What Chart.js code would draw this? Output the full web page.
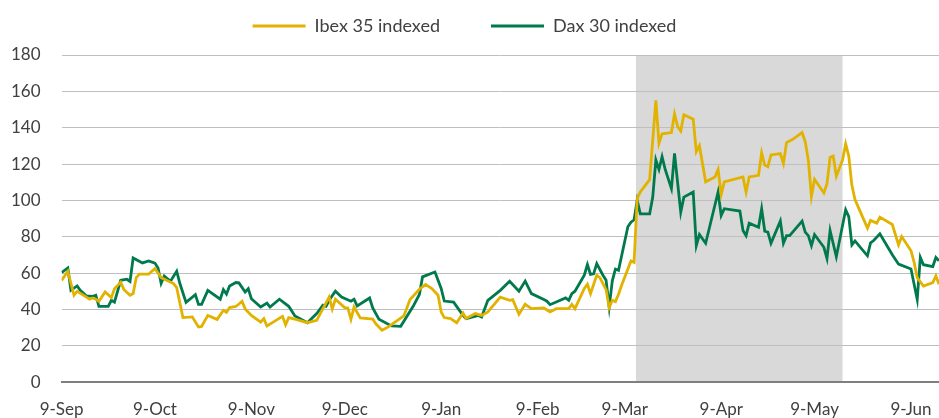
<!DOCTYPE html>
<html>
<head>
<meta charset="utf-8">
<script src="https://cdn.jsdelivr.net/npm/chart.js@4.4.1/dist/chart.umd.min.js"></script>
<style>
    html, body { margin: 0; padding: 0; background: #fff; }
    #wrap { width: 939px; height: 418px; }
</style>
</head>
<body>
<div id="wrap"><canvas id="chart"></canvas></div>
<script>
// x values are days counted from 9-Sep
const tickDays = [0, 30, 61, 91, 122, 153, 181, 212, 242, 273];
const tickLabels = ['9-Sep', '9-Oct', '9-Nov', '9-Dec', '9-Jan', '9-Feb', '9-Mar', '9-Apr', '9-May', '9-Jun'];

const shadeFrom = 184.6;
const shadeTo = 251;

const ibexDays = [0, 2, 4, 5, 8, 9, 10, 11, 12, 14, 16, 17, 19, 20, 22, 23, 24, 25, 28, 30, 31, 32, 33, 36, 37, 39, 42, 44, 45, 47, 50, 52, 53, 54, 56, 57, 58, 59, 61, 64, 65, 66, 68, 71, 72, 73, 75, 79, 82, 84, 86, 87, 88, 91, 92, 93, 94, 96, 100, 101, 103, 105, 110, 112, 115, 117, 119, 121, 122, 123, 125, 127, 129, 130, 133, 135, 137, 141, 144, 145, 147, 149, 151, 155, 157, 159, 163, 164, 165, 168, 169, 170, 172, 173, 175, 176, 177, 178, 179, 180, 183, 184, 185, 186, 189, 191, 192, 193, 196, 197, 198, 199, 200, 203, 204, 205, 207, 210, 211, 212, 213, 219, 220, 221, 224, 225, 226, 227, 228, 231, 232, 233, 235, 238, 239, 240, 241, 242, 245, 246, 247, 248, 249, 251, 252, 253, 254, 255, 257, 259, 260, 262, 263, 267, 269, 270, 273, 274, 275, 277, 280, 281, 282];
const ibexValues = [56, 61, 47.8, 50, 46.8, 45.6, 46.3, 45.6, 44.5, 49.6, 46.5, 51.4, 55, 51, 47.8, 48.7, 57.5, 59.4, 59.4, 62.5, 60, 57.5, 56.6, 54.2, 52, 35.5, 35.9, 30.3, 30.6, 36.7, 34.5, 39.5, 38.4, 41, 41.6, 43, 44.5, 40.3, 36.7, 33, 34.9, 30.9, 33, 36.2, 31.6, 35.5, 34.6, 32.7, 34, 40.4, 46.8, 40.2, 45.6, 41, 40.8, 34.6, 41.3, 35.3, 34.7, 32.1, 28.5, 30.4, 36.4, 45.4, 51.1, 53.7, 51.5, 47.8, 38.6, 35.5, 35, 32.7, 38, 35, 37.7, 36.7, 38.6, 46.8, 45, 45.4, 37.3, 42.8, 40.4, 40.8, 38.6, 40.4, 40.4, 42.8, 40.4, 51.5, 53.8, 48.7, 58.8, 57.5, 50.9, 40.9, 45, 44.3, 48.3, 53.3, 66.7, 65.9, 100.9, 104.6, 111.4, 155, 131.4, 136.6, 137.3, 147.6, 140.6, 138.2, 147.1, 144.7, 126.8, 130.1, 110.2, 112.9, 117, 103.3, 110.2, 112.9, 104.6, 112.9, 113.8, 126.2, 119.4, 118.5, 125, 125.8, 120.3, 131.8, 133.6, 137.3, 132.3, 122.2, 102.2, 111.6, 104.1, 109.2, 123.6, 124.4, 113.3, 122.2, 131.1, 124.4, 108.3, 100.4, 92.6, 84.7, 89, 87.5, 90.8, 86.7, 75.5, 80.1, 72.3, 65.9, 57.5, 52.9, 54.8, 58.5, 53.8];

const daxDays = [0, 2, 3, 5, 6, 8, 10, 11, 12, 15, 16, 17, 19, 21, 22, 23, 26, 28, 30, 31, 32, 33, 35, 37, 38, 40, 43, 44, 45, 47, 51, 52, 53, 54, 56, 57, 59, 60, 61, 64, 66, 67, 70, 73, 75, 79, 82, 84, 85, 86, 88, 90, 93, 94, 95, 99, 100, 102, 106, 109, 113, 115, 116, 120, 122, 123, 126, 129, 130, 134, 135, 137, 141, 144, 147, 149, 151, 155, 156, 157, 162, 163, 164, 165, 168, 169, 170, 171, 172, 174, 175, 176, 177, 178, 179, 182, 183, 184, 185, 186, 189, 190, 191, 192, 193, 194, 196, 197, 199, 200, 203, 204, 205, 207, 211, 212, 213, 218, 219, 220, 221, 224, 225, 226, 227, 228, 231, 232, 233, 234, 238, 239, 240, 241, 242, 245, 246, 247, 249, 252, 253, 254, 255, 259, 260, 261, 263, 267, 269, 273, 275, 276, 277, 280, 281, 282];
const daxValues = [60.3, 62.8, 50.5, 52.9, 50.5, 47.4, 47.2, 47.8, 41.7, 41.7, 45, 44, 56, 56.6, 55.4, 68.3, 65.6, 66.7, 65.5, 62.8, 54.4, 58.4, 55.5, 61, 54.4, 43.9, 48.1, 42.8, 42.8, 50.5, 45.6, 50.9, 48.5, 52.9, 54.8, 54.6, 49.6, 51.4, 45.9, 41.3, 43.5, 41.3, 45.6, 41.7, 36.4, 32.7, 37.7, 42.3, 41.7, 45, 50, 46.8, 44.5, 45.6, 41.9, 46.3, 40.8, 34.6, 30.9, 30.7, 41.7, 48.2, 57.9, 60.6, 51.5, 44.6, 44, 36.7, 34.9, 36.7, 35.8, 45, 50.5, 55.5, 50, 55.6, 48.7, 45.4, 44.5, 42.6, 46.3, 45, 48.7, 50, 58.8, 64.7, 59.3, 59.6, 65.2, 58.8, 56, 41.3, 55.7, 62.2, 61.5, 85.5, 88, 89.3, 100, 92.6, 92.6, 101.8, 122.2, 117, 124, 117, 106.5, 125.8, 93.5, 101.8, 104.6, 75.1, 81.2, 76.4, 104.6, 91.7, 95.4, 94.1, 83.4, 80.6, 87.4, 85.2, 95.4, 83, 82.5, 76.4, 88.6, 76.4, 80.6, 80.6, 88.6, 82.5, 80.6, 75.1, 81.2, 74.2, 68.1, 83.4, 69, 94.8, 91.1, 75.5, 77.7, 69.5, 76.6, 77.9, 81.6, 70.1, 64.9, 62.2, 45.5, 68.6, 64.6, 63.6, 68.6, 66.8];

const textColor = '#404040';
const fontFamily = 'Lato, "Open Sans", sans-serif';
const legendExtra = 10;

function toPoints(days, values) {
    return days.map((d, i) => ({ x: d, y: values[i] }));
}

// grey band behind the grid for the highlighted period
const shadePlugin = {
    id: 'shade',
    beforeDraw(chart) {
        const { ctx, scales } = chart;
        const x1 = scales.x.getPixelForValue(shadeFrom);
        const x2 = scales.x.getPixelForValue(shadeTo);
        const yTop = scales.y.getPixelForValue(180);
        const yBottom = scales.y.getPixelForValue(0);
        ctx.save();
        ctx.fillStyle = '#D9D9D9';
        ctx.fillRect(x1, yTop, x2 - x1, yBottom - yTop);
        ctx.restore();
    }
};

// more room under the legend without moving its text
const legendGapPlugin = {
    id: 'legendGap',
    beforeUpdate(chart) {
        const legend = chart.legend;
        if (legend && !legend.gapPatched) {
            const fit = legend.fit;
            legend.fit = function () {
                fit.call(this);
                this.height += legendExtra;
            };
            legend.gapPatched = true;
        }
    }
};

new Chart(document.getElementById('chart'), {
    type: 'line',
    data: {
        datasets: [
            {
                label: 'Ibex 35 indexed',
                data: toPoints(ibexDays, ibexValues),
                borderColor: '#E2B200',
                backgroundColor: '#E2B200',
                borderWidth: 2.8,
                pointRadius: 0,
                tension: 0
            },
            {
                label: 'Dax 30 indexed',
                data: toPoints(daxDays, daxValues),
                borderColor: '#007A4D',
                backgroundColor: '#007A4D',
                borderWidth: 2.8,
                pointRadius: 0,
                tension: 0
            }
        ]
    },
    options: {
        responsive: true,
        maintainAspectRatio: false,
        animation: false,
        layout: { padding: { top: -34, left: -10, right: 0, bottom: -18 } },
        plugins: {
            legend: {
                position: 'top',
                labels: {
                    usePointStyle: true,
                    pointStyle: 'line',
                    pointStyleWidth: 53,
                    padding: 51,
                    color: textColor,
                    font: { family: fontFamily, size: 18 }
                }
            },
            tooltip: { enabled: false }
        },
        scales: {
            x: {
                type: 'linear',
                min: 0,
                max: 282,
                afterBuildTicks: (axis) => {
                    axis.ticks = tickDays.map(d => ({ value: d }));
                },
                ticks: {
                    autoSkip: false,
                    maxRotation: 0,
                    padding: 4,
                    color: textColor,
                    font: { family: fontFamily, size: 17, lineHeight: 2.7 },
                    callback: (value) => tickLabels[tickDays.indexOf(value)]
                },
                grid: { display: false, drawTicks: false },
                border: { display: true, color: '#7F7F7F', width: 2 }
            },
            y: {
                min: 0,
                max: 180,
                ticks: {
                    stepSize: 20,
                    padding: 21,
                    color: textColor,
                    font: { family: fontFamily, size: 17 }
                },
                grid: { color: '#BFBFBF', lineWidth: 1, drawTicks: false },
                border: { display: false }
            }
        }
    },
    plugins: [shadePlugin, legendGapPlugin]
});
</script>
</body>
</html>
